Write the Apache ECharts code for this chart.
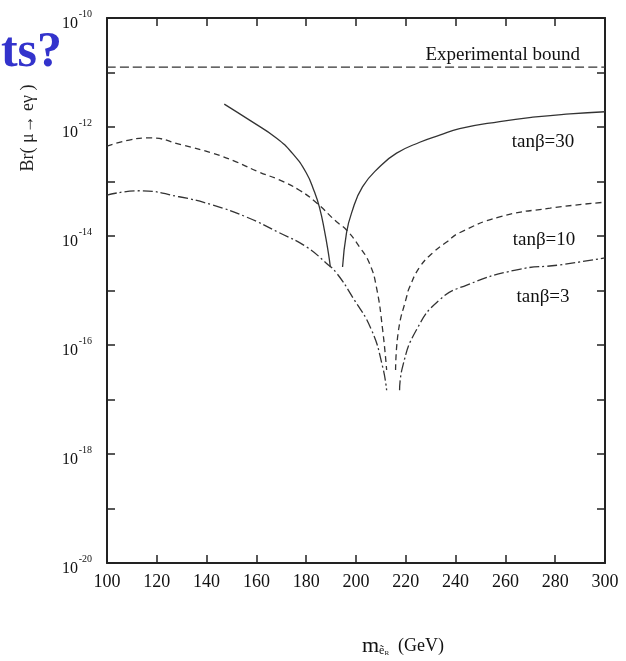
<!DOCTYPE html>
<html>
<head>
<meta charset="utf-8">
<script src="https://cdn.jsdelivr.net/npm/echarts@6/dist/echarts.min.js"></script>
<style>
  html, body { margin: 0; padding: 0; background: #fff; }
  #main { width: 626px; height: 661px; }
</style>
</head>
<body>
<div id="main"></div>
<script>
// ---------------- data: m (GeV) vs log10 Br(mu -> e gamma) ----------------
const boundM = [100, 300];
const boundLog = [-10.9, -10.9];

// tan beta = 30 (solid), two branches around the cancellation dip
const t30LeftM = [147.1, 157.1, 168.0, 174.4, 180.0, 183.3, 185.3, 187.3, 188.9, 189.7];
const t30LeftLog = [-11.58, -11.87, -12.2, -12.48, -12.84, -13.19, -13.47, -13.89, -14.31, -14.57];
const t30RightM = [194.6, 196.2, 198.2, 202.6, 209.5, 216.3, 225.6, 233.6, 241.6, 257.7, 271, 285.9, 300];
const t30RightLog = [-14.57, -13.94, -13.58, -13.1, -12.73, -12.48, -12.28, -12.15, -12.03, -11.9, -11.82, -11.76, -11.72];

// tan beta = 10 (dashed)
const t10LeftM = [100, 108.9, 116.9, 130.2, 142.3, 151.9, 161.2, 169.2, 177.3, 184.1, 192.2, 196.2, 201.4, 205.4, 208.2, 210.7, 212.3];
const t10LeftLog = [-12.35, -12.24, -12.2, -12.33, -12.48, -12.64, -12.83, -12.97, -13.16, -13.39, -13.74, -13.89, -14.2, -14.5, -14.94, -15.72, -16.46];
const t10RightM = [215.9, 217.1, 220.3, 221.5, 225.6, 230.8, 236.4, 241.6, 257.7, 277.9, 300];
const t10RightLog = [-16.46, -15.72, -15.12, -14.94, -14.57, -14.31, -14.11, -13.94, -13.65, -13.49, -13.38];

// tan beta = 3 (dash-dot)
const t3LeftM = [100, 112.9, 129.0, 142.3, 155.9, 169.2, 180.1, 188.1, 192.2, 198.6, 206.2, 210.7, 212.3];
const t3LeftLog = [-13.25, -13.17, -13.28, -13.43, -13.65, -13.94, -14.2, -14.5, -14.68, -15.12, -15.72, -16.4, -16.83];
const t3RightM = [217.5, 218.7, 224.3, 233.6, 244.5, 264.6, 281.9, 300];
const t3RightLog = [-16.83, -16.4, -15.72, -15.17, -14.9, -14.62, -14.53, -14.4];

const xTicks = [100, 120, 140, 160, 180, 200, 220, 240, 260, 280, 300];
const yLabelPowers = [-20, -18, -16, -14, -12, -10];

const SERIF = '"Liberation Serif", "DejaVu Serif", serif';
const INK = '#222';

function pairs(xs, ys) {
  return xs.map((x, i) => [x, ys[i]]);
}

function curve(name, xs, ys, dash) {
  return {
    name: name,
    type: 'line',
    data: pairs(xs, ys),
    showSymbol: false,
    smooth: 0.5,
    silent: true,
    lineStyle: { color: '#333', width: 1.3, type: dash }
  };
}

let myChart = echarts.init(document.querySelector('#main'));

const axisLine = { show: true, lineStyle: { color: INK, width: 2 } };
const tick = { show: true, inside: true, length: 8, lineStyle: { color: INK, width: 1.5 } };
const yMin = -20, yMax = -10;

let option = {
  backgroundColor: '#fff',
  animation: false,
  grid: { left: 107, right: 21, top: 18, bottom: 98 },
  xAxis: [
    {
      type: 'value', position: 'bottom', min: xTicks[0], max: xTicks[xTicks.length - 1], interval: 20,
      axisLine: axisLine, axisTick: tick, splitLine: { show: false },
      axisLabel: { fontFamily: SERIF, fontSize: 18, color: '#111', margin: 10 }
    },
    {
      type: 'value', position: 'top', min: xTicks[0], max: xTicks[xTicks.length - 1], interval: 20,
      axisLine: axisLine, axisTick: tick, splitLine: { show: false }, axisLabel: { show: false }
    }
  ],
  yAxis: [
    {
      // base "10" of each label, sitting just below the tick
      type: 'value', position: 'left', min: yMin, max: yMax, interval: 1,
      axisLine: axisLine, axisTick: tick, splitLine: { show: false },
      axisLabel: {
        margin: 29, fontFamily: SERIF, fontSize: 16, color: '#111',
        verticalAlign: 'top', lineHeight: 11,
        formatter: v => (yLabelPowers.indexOf(v) >= 0 ? '10' : '')
      }
    },
    {
      type: 'value', position: 'right', min: yMin, max: yMax, interval: 1,
      axisLine: axisLine, axisTick: tick, splitLine: { show: false }, axisLabel: { show: false }
    },
    {
      // exponents, raised as superscripts
      type: 'value', position: 'left', min: yMin, max: yMax, interval: 1,
      axisLine: { show: false }, axisTick: { show: false }, splitLine: { show: false },
      axisLabel: {
        margin: 15, fontFamily: SERIF, fontSize: 10, color: '#111',
        verticalAlign: 'bottom', lineHeight: 8,
        formatter: v => (yLabelPowers.indexOf(v) >= 0 ? String(v) : '')
      }
    }
  ],
  graphic: [
    {
      type: 'text', x: 62, y: 78,
      style: { text: 'ts?', font: 'bold 50px ' + SERIF, fill: '#3333cc', align: 'right', verticalAlign: 'bottom' }
    },
    {
      type: 'text', x: 28, y: 128, rotation: Math.PI / 2,
      style: { text: 'Br( μ→ eγ )', font: '18px ' + SERIF, fill: '#222', align: 'center', verticalAlign: 'middle' }
    },
    {
      type: 'text', x: 580, y: 55,
      style: { text: 'Experimental bound', font: '19px ' + SERIF, fill: '#111', align: 'right', verticalAlign: 'middle' }
    },
    {
      type: 'text', x: 543, y: 142,
      style: { text: 'tanβ=30', font: '19px ' + SERIF, fill: '#111', align: 'center', verticalAlign: 'middle' }
    },
    {
      type: 'text', x: 544, y: 240,
      style: { text: 'tanβ=10', font: '19px ' + SERIF, fill: '#111', align: 'center', verticalAlign: 'middle' }
    },
    {
      type: 'text', x: 543, y: 297,
      style: { text: 'tanβ=3', font: '19px ' + SERIF, fill: '#111', align: 'center', verticalAlign: 'middle' }
    },
    {
      type: 'text', x: 362, y: 646,
      style: {
        text: '{m|m}{e|ẽ}{r|R}{g|  (GeV)}',
        verticalAlign: 'middle',
        rich: {
          m: { fontFamily: SERIF, fontSize: 22, fill: '#111' },
          e: { fontFamily: SERIF, fontSize: 12, fill: '#111', verticalAlign: 'bottom' },
          r: { fontFamily: SERIF, fontSize: 7, fill: '#111', verticalAlign: 'bottom' },
          g: { fontFamily: SERIF, fontSize: 18, fill: '#111' }
        }
      }
    }
  ],
  series: [
    curve('Experimental bound', boundM, boundLog, [9, 4]),
    curve('tanβ=30 a', t30LeftM, t30LeftLog, 'solid'),
    curve('tanβ=30 b', t30RightM, t30RightLog, 'solid'),
    curve('tanβ=10 a', t10LeftM, t10LeftLog, [6, 4]),
    curve('tanβ=10 b', t10RightM, t10RightLog, [6, 4]),
    curve('tanβ=3 a', t3LeftM, t3LeftLog, [10, 3, 2, 3]),
    curve('tanβ=3 b', t3RightM, t3RightLog, [10, 3, 2, 3])
  ]
};
myChart.setOption(option);
</script>
</body>
</html>
